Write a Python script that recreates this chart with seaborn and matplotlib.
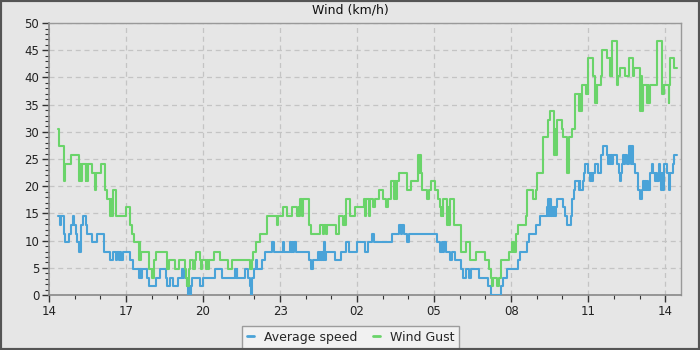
import matplotlib
matplotlib.use("Agg")
import matplotlib.pyplot as plt
import pandas as pd
import seaborn as sns
from matplotlib.patches import Rectangle
from matplotlib.ticker import MultipleLocator

# ---- data (hours since 14:00, km/h) ----
gust_hours = [
    0.36, 0.40, 0.58, 0.62, 0.84, 1.18, 1.21, 1.24, 1.27, 1.43, 1.46, 1.49, 1.52, 1.69, 1.79, 1.85, 2.03, 2.18, 2.25, 2.38, 2.41, 2.44, 2.48, 2.61,
    3.00, 3.16, 3.22, 3.32, 3.51, 3.54, 3.56, 3.58, 3.91, 4.00, 4.04, 4.07, 4.09, 4.16, 4.61, 4.66, 4.91, 5.06, 5.30, 5.35, 5.39, 5.44, 5.49, 5.62, 5.68, 5.73, 5.88, 5.92, 5.95,
    6.12, 6.15, 6.18, 6.22, 6.44, 6.66, 6.99, 7.12, 7.83, 7.90, 7.95, 8.06, 8.22, 8.48, 8.87, 8.93, 9.10, 9.26, 9.45, 9.67, 9.72, 9.75, 9.78, 9.84, 9.88,
    10.14, 10.19, 10.56, 10.69, 10.72, 10.80, 10.83, 11.18, 11.30, 11.47, 11.51, 11.54, 11.57, 11.73, 11.92, 12.25, 12.29, 12.33, 12.45, 12.49,
    12.63, 12.70, 12.87, 13.00, 13.13, 13.22, 13.31, 13.44, 13.48, 13.50, 13.54, 13.65, 13.93, 14.09, 14.39, 14.42, 14.45, 14.50, 14.54, 14.71, 14.82, 14.87, 15.04, 15.17, 15.23, 15.26, 15.30, 15.33, 15.36, 15.49, 15.52, 15.56, 15.59, 15.62, 15.78,
    16.04, 16.23, 16.40, 16.63, 16.99, 17.15, 17.21, 17.25, 17.28, 17.44, 17.54, 17.60, 17.93, 18.02, 18.06, 18.09, 18.13, 18.19, 18.28, 18.57, 18.63, 18.84, 18.97, 19.02,
    19.26, 19.45, 19.52, 19.67, 19.70, 19.73, 19.78, 19.97, 20.01, 20.19, 20.27, 20.36, 20.49, 20.64, 20.67, 20.69, 20.75, 20.92, 20.95, 20.98, 21.01,
    21.20, 21.27, 21.30, 21.33, 21.36, 21.49, 21.53, 21.73, 21.85, 21.88, 21.91, 21.94, 22.14, 22.18, 22.24, 22.44, 22.59, 22.76, 22.80, 23.00, 23.04, 23.08, 23.13, 23.28, 23.32, 23.35, 23.39, 23.70, 23.87, 23.90, 23.93, 23.96, 24.13, 24.16, 24.19, 24.35, 24.45,
]
gust_kmh = [
    30.6, 27.4, 20.9, 24.1, 25.7, 20.9, 24.1, 20.9, 24.1, 20.9, 24.1, 20.9, 24.1, 22.5, 19.3, 22.5, 24.1, 19.3, 17.7, 14.5, 17.7, 14.5, 19.3, 14.5,
    16.1, 12.9, 11.3, 9.7, 6.4, 9.7, 6.4, 8.0, 4.8, 3.2, 4.8, 3.2, 6.4, 8.0, 4.8, 6.4, 4.8, 6.4, 4.8, 3.2, 1.6, 4.8, 6.4, 4.8, 6.4, 8.0, 6.4, 4.8, 6.4,
    4.8, 6.4, 4.8, 6.4, 8.0, 6.4, 4.8, 6.4, 4.8, 6.4, 8.0, 9.7, 11.3, 14.5, 12.9, 14.5, 16.1, 14.5, 16.1, 14.5, 16.1, 14.5, 17.7, 14.5, 17.7,
    12.9, 11.3, 12.9, 11.3, 12.9, 11.3, 12.9, 11.3, 14.5, 12.9, 14.5, 12.9, 17.7, 14.5, 16.1, 17.7, 14.5, 17.7, 14.5, 17.7,
    16.1, 17.7, 19.3, 17.7, 16.1, 17.7, 20.9, 17.7, 20.9, 17.7, 20.9, 22.5, 19.3, 20.9, 25.7, 22.5, 25.7, 22.5, 19.3, 17.7, 19.3, 20.9, 19.3, 17.7, 16.1, 14.5, 16.1, 14.5, 17.7, 16.1, 12.9, 16.1, 12.9, 17.7, 12.9,
    8.0, 9.7, 6.4, 8.0, 6.4, 4.8, 3.2, 1.6, 3.2, 1.6, 3.2, 6.4, 8.0, 9.7, 8.0, 9.7, 8.0, 11.3, 12.9, 14.5, 19.3, 17.7, 19.3, 22.5,
    29.0, 32.2, 33.8, 25.7, 30.6, 25.7, 32.2, 30.6, 29.0, 22.5, 29.0, 30.6, 37.0, 33.8, 37.0, 33.8, 38.6, 37.0, 38.6, 37.0, 43.5,
    40.2, 35.4, 38.6, 35.4, 38.6, 40.2, 45.1, 43.5, 40.2, 43.5, 40.2, 46.7, 38.6, 40.2, 41.8, 40.2, 43.5, 40.2, 41.8, 33.8, 40.2, 33.8, 38.6, 35.4, 38.6, 35.4, 38.6, 46.7, 37.0, 38.6, 37.0, 38.6, 35.4, 38.6, 43.5, 41.8, 41.8,
]

avg_hours = [
    0.36, 0.42, 0.45, 0.58, 0.62, 0.78, 0.84, 0.92, 0.99, 1.05, 1.10, 1.16, 1.19, 1.22, 1.26, 1.34, 1.43, 1.49, 1.69, 1.88, 2.16, 2.38, 2.48, 2.61, 2.66, 2.71, 2.76, 2.80, 2.87, 3.16,
    3.26, 3.51, 3.54, 3.58, 3.62, 3.80, 3.91, 4.16, 4.32, 4.55, 4.58, 4.71, 4.84, 5.04, 5.17, 5.20, 5.23, 5.30, 5.39, 5.42, 5.45, 5.48, 5.52, 5.56,
    5.88, 6.01, 6.47, 6.73, 7.25, 7.28, 7.31, 7.34, 7.64, 7.77, 7.83, 7.86, 7.90, 7.99, 8.06, 8.12, 8.28, 8.41,
    8.68, 8.77, 9.10, 9.15, 9.39, 9.43, 9.47, 9.52, 9.55, 9.61, 10.14, 10.19, 10.30, 10.49, 10.53, 10.57, 10.61, 10.65, 10.69, 10.72, 10.75, 10.78, 11.14, 11.36, 11.57, 11.70,
    12.01, 12.31, 12.44, 12.57, 12.66, 13.35, 13.65, 13.70, 13.74, 13.83, 13.96, 14.04, 15.10, 15.21, 15.30, 15.34, 15.38, 15.47, 15.60, 15.69, 15.82, 16.04, 16.12, 16.23, 16.37, 16.43, 16.74, 17.08, 17.21, 17.60, 17.70, 17.83,
    18.28, 18.35, 18.61, 18.70, 18.97, 19.13, 19.39, 19.42, 19.45, 19.48, 19.52, 19.55, 19.58, 19.62, 19.66, 19.70, 19.75, 19.80, 20.01, 20.10, 20.19, 20.32, 20.38, 20.43, 20.49, 20.64, 20.67, 20.70, 20.79, 20.84, 20.88,
    21.01, 21.08, 21.11, 21.14, 21.17, 21.27, 21.40, 21.49, 21.50, 21.57, 21.72, 21.76, 21.80, 21.84, 21.88, 21.92, 21.98, 22.11, 22.22, 22.25, 22.28, 22.31, 22.37, 22.41, 22.45, 22.50, 22.61, 22.65, 22.69, 22.74,
    22.83, 22.96, 23.00, 23.09, 23.13, 23.17, 23.21, 23.25, 23.29, 23.33, 23.39, 23.48, 23.54, 23.61, 23.65, 23.69, 23.74, 23.80, 23.84, 23.88, 23.92, 23.96, 24.09, 24.13, 24.17, 24.22, 24.30, 24.35, 24.45,
]
avg_kmh = [
    14.5, 12.9, 14.5, 11.3, 9.7, 11.3, 12.9, 14.5, 12.9, 11.3, 9.7, 8.0, 9.7, 8.0, 12.9, 14.5, 12.9, 11.3, 9.7, 11.3, 8.0, 6.4, 8.0, 6.4, 8.0, 6.4, 8.0, 6.4, 8.0, 6.4,
    4.8, 3.2, 4.8, 3.2, 4.8, 3.2, 1.6, 3.2, 4.8, 3.2, 1.6, 3.2, 1.6, 3.2, 4.8, 3.2, 4.8, 3.2, 1.6, 0.0, 1.6, 0.0, 1.6, 3.2,
    1.6, 3.2, 4.8, 3.2, 4.8, 3.2, 4.8, 3.2, 4.8, 3.2, 1.6, 0.0, 3.2, 4.8, 6.4, 4.8, 6.4, 8.0,
    9.7, 8.0, 9.7, 8.0, 9.7, 8.0, 9.7, 8.0, 9.7, 8.0, 6.4, 4.8, 6.4, 8.0, 6.4, 8.0, 6.4, 8.0, 6.4, 9.7, 6.4, 8.0, 6.4, 8.0, 9.7, 8.0,
    9.7, 8.0, 9.7, 11.3, 9.7, 11.3, 12.9, 11.3, 12.9, 11.3, 9.7, 11.3, 9.7, 8.0, 9.7, 8.0, 9.7, 8.0, 6.4, 8.0, 6.4, 4.8, 3.2, 4.8, 3.2, 4.8, 3.2, 1.6, 0.0, 1.6, 3.2, 4.8,
    6.4, 8.0, 9.7, 11.3, 12.9, 14.5, 16.1, 14.5, 17.7, 14.5, 17.7, 14.5, 16.1, 14.5, 16.1, 14.5, 16.1, 17.7, 16.1, 14.5, 12.9, 14.5, 17.7, 19.3, 20.9, 19.3, 20.9, 19.3, 20.9, 22.5, 24.1,
    22.5, 20.9, 22.5, 20.9, 22.5, 24.1, 22.5, 24.1, 25.7, 27.4, 25.7, 24.1, 25.7, 24.1, 25.7, 24.1, 25.7, 24.1, 22.5, 20.9, 22.5, 24.1, 25.7, 24.1, 25.7, 24.1, 27.4, 24.1, 27.4, 24.1,
    22.5, 19.3, 17.7, 19.3, 20.9, 19.3, 20.9, 19.3, 20.9, 19.3, 22.5, 24.1, 22.5, 20.9, 22.5, 20.9, 24.1, 22.5, 19.3, 22.5, 19.3, 24.1, 22.5, 19.3, 22.5, 22.5, 24.1, 25.7, 25.7,
]

tick_hours = [0, 3, 6, 9, 12, 15, 18, 21, 24]
tick_labels = ["14", "17", "20", "23", "02", "05", "08", "11", "14"]

BLUE = "#4aa3d8"
GREEN = "#6ad46a"
BG = "#e6e6e6"

sns.set_style("ticks")
plt.rcParams["font.family"] = ["DejaVu Sans"]

fig = plt.figure(figsize=(7, 3.5), dpi=100, facecolor=BG)
ax = fig.add_axes([0.07, 0.157, 0.903, 0.777])
ax.set_facecolor(BG)

df_avg = pd.DataFrame({"hour": avg_hours, "kmh": avg_kmh})
df_gust = pd.DataFrame({"hour": gust_hours, "kmh": gust_kmh})

sns.lineplot(data=df_avg, x="hour", y="kmh", ax=ax, drawstyle="steps-post",
             color=BLUE, lw=1.5, label="Average speed", estimator=None, sort=False, zorder=3)
sns.lineplot(data=df_gust, x="hour", y="kmh", ax=ax, drawstyle="steps-post",
             color=GREEN, lw=1.5, label="Wind Gust", estimator=None, sort=False, zorder=3)

ax.set_xlim(0, 24.62)
ax.set_ylim(0, 50)
ax.set_xticks(tick_hours)
ax.set_xticklabels(tick_labels)
ax.set_yticks(range(0, 51, 5))
ax.xaxis.set_minor_locator(MultipleLocator(1))
ax.yaxis.set_minor_locator(MultipleLocator(1))
ax.set_xlabel("")
ax.set_ylabel("")
ax.tick_params(which="major", direction="out", length=5, width=1, color="#333333",
               labelsize=8.5, labelcolor="#222222", pad=2)
ax.tick_params(which="minor", direction="out", length=3, width=0.8, color="#333333")
ax.grid(True, which="major", color="#c4c4c4", lw=0.9, linestyle=(0, (4, 3)), zorder=0)
for side in ["top", "right"]:
    ax.spines[side].set_color("#999999")
    ax.spines[side].set_linewidth(1)
for side in ["left", "bottom"]:
    ax.spines[side].set_color("#888888")
    ax.spines[side].set_linewidth(1.2)

fig.text(0.5, 0.971, "Wind (km/h)", ha="center", va="center", fontsize=9, color="#111111")

leg = ax.legend(loc="center", bbox_to_anchor=(0.501, 0.037), bbox_transform=fig.transFigure,
                ncol=2, fontsize=9, frameon=True, fancybox=False, handlelength=0.5,
                handletextpad=0.8, columnspacing=1.3, borderpad=0.4, borderaxespad=0)
leg.get_frame().set_facecolor("#f4f4f4")
leg.get_frame().set_edgecolor("#888888")
leg.get_frame().set_linewidth(1)
for h in leg.get_lines():
    h.set_linewidth(2)

fig.patches.append(Rectangle((0, 0), 1, 1, transform=fig.transFigure, fill=False,
                             edgecolor="#555555", lw=3, zorder=10))

fig.savefig("out.png", dpi=100, facecolor=BG)
